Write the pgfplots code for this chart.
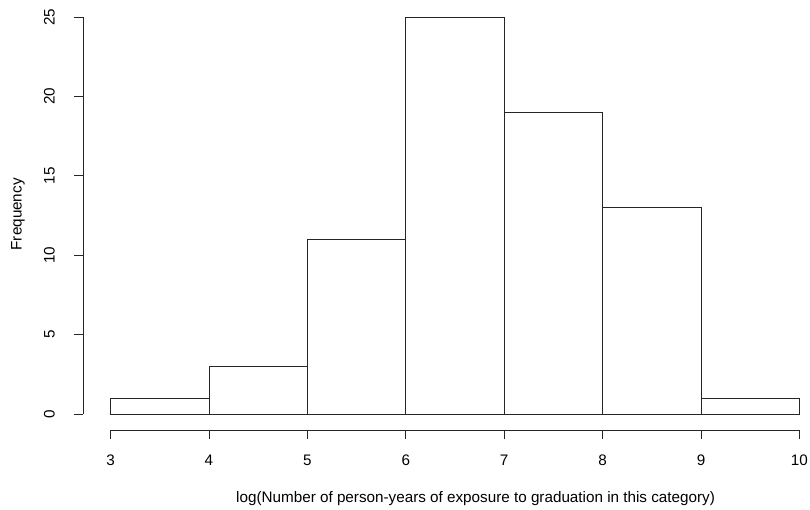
\documentclass[border=0pt]{standalone}
\usepackage{fontspec}
\setmainfont{Liberation Sans}
\usepackage{pgfplots}
\pgfplotsset{compat=1.18}
\begin{document}
\fontsize{15.3}{18}\selectfont
\begin{tikzpicture}
\useasboundingbox (-83bp,-80bp) rectangle (727bp,430bp);
\begin{axis}[
  at={(0,0)}, anchor=south west,
  scale only axis, width=724.3bp, height=428.8bp,
  xmin=2.72, xmax=10.08, ymin=-1, ymax=26,
  clip=false,
  axis x line*=bottom, axis y line*=left,
  axis line style={draw=none},
  xtick={3,4,5,6,7,8,9,10}, ytick={0,5,10,15,20,25},
  minor tick num=0,
  tick align=outside, major tick length=9bp,
  tick style={color=black!85, line width=0.8bp},
  /pgf/number format/assume math mode=true,
  yticklabel style={rotate=90, anchor=south, font=\fontsize{15.3}{18}\selectfont},
  xticklabel style={anchor=north, font=\fontsize{15.3}{18}\selectfont},
  yticklabel shift=14bp,
  xticklabel shift=11bp,
  xlabel={log(Number of person-years of exposure to graduation in this category)},
  ylabel={Frequency},
  xlabel style={at={(axis description cs:0.542,0)}, anchor=base, yshift=-72bp, font=\fontsize{15.3}{18}\selectfont},
  ylabel style={at={(axis description cs:-0.0897,0.503)}, anchor=center, font=\fontsize{15.3}{18}\selectfont},
]
\addplot[ybar interval, fill=white, draw=black!85, line width=0.8bp] coordinates {(3,1) (4,3) (5,11) (6,25) (7,19) (8,13) (9,1) (10,1)};
\draw[line width=0.8bp, black!85] (axis cs:3,-1) -- (axis cs:10,-1);
\draw[line width=0.8bp, black!85] (axis cs:2.72,0) -- (axis cs:2.72,25);
\end{axis}
\end{tikzpicture}
\end{document}
